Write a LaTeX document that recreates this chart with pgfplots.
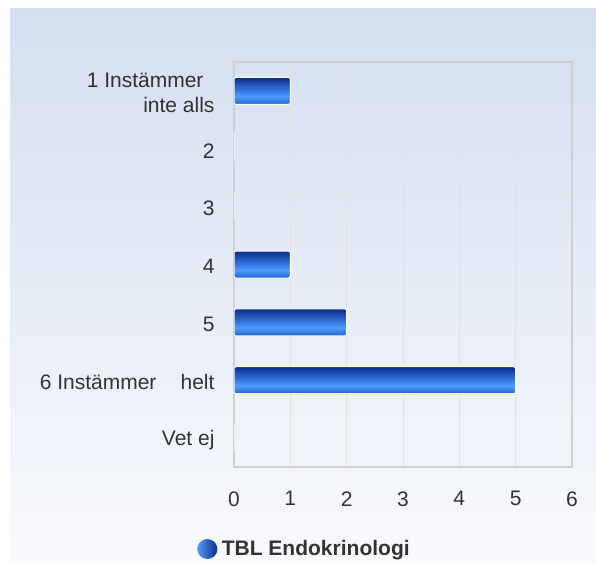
\documentclass[border=0pt]{standalone}
\usepackage{fontspec}
\setmainfont{Liberation Sans}
\usepackage{pgfplots}
\pgfplotsset{compat=1.18}
\definecolor{bgtop}{RGB}{211,223,240}
\definecolor{bgbot}{RGB}{249,250,253}
\definecolor{btop}{RGB}{12,42,135}
\definecolor{blight}{RGB}{80,157,250}
\definecolor{bmid}{RGB}{55,120,230}
\definecolor{bbot}{RGB}{32,98,210}
\definecolor{txt}{RGB}{51,51,51}
\definecolor{gridc}{RGB}{226,226,226}
\definecolor{axc}{RGB}{208,208,208}
\pgfdeclareverticalshading{barshade}{100bp}{color(0bp)=(bbot); color(25bp)=(bbot); color(40bp)=(blight); color(50bp)=(bmid); color(75bp)=(btop); color(100bp)=(btop)}
\pgfplotsset{barsty/.style={xbar, bar shift=0pt, shading=barshade, draw=white, line width=1bp, rounded corners=2bp}}
\begin{document}
\begin{tikzpicture}
\fill[white] (0,0) rectangle (596bp,563bp);
\shade[top color=bgtop, bottom color=bgbot] (10bp,0bp) rectangle (596bp,554bp);
\begin{axis}[
  at={(234bp,96bp)}, anchor=south west,
  scale only axis, width=338bp, height=405bp,
  xbar, bar width=27bp, bar shift=0pt,
  xmin=0, xmax=6, ymin=-0.5, ymax=6.5,
  y dir=reverse,
  xtick={0,1,...,6}, ytick={0,...,6},
  yticklabels={{1 Instämmer\hspace*{11bp}\\inte alls},2,3,4,5,{6 Instämmer\hspace{1.15em}helt},Vet ej},
  major tick length=0pt,
  xmajorgrids, grid style={gridc, line width=1bp},
  axis line style={axc, line width=1.3bp},
  tick label style={font=\fontsize{21bp}{25bp}\selectfont, text=txt},
  yticklabel style={align=right, xshift=-16bp, yshift=-2bp},
  xticklabel style={yshift=-21bp},
  /pgf/number format/assume math mode=true,
  legend style={at={(rel axis cs:0.2086,-0.2025)}, anchor=center, draw=none, fill=none,
    font=\fontsize{21bp}{23bp}\selectfont\bfseries, text=txt},
  legend image code/.code={\shade[left color=blight, right color=btop, draw=none] (0bp,0bp) circle (10bp); \path (12bp,0bp);},
]
\addplot[barsty] coordinates {(1,0)};
\addlegendentry{TBL Endokrinologi}
\addplot[barsty, forget plot] coordinates {(0,1)};
\addplot[barsty, forget plot] coordinates {(0,2)};
\addplot[barsty, forget plot] coordinates {(1,3)};
\addplot[barsty, forget plot] coordinates {(2,4)};
\addplot[barsty, forget plot] coordinates {(5,5)};
\addplot[barsty, forget plot] coordinates {(0,6)};
\end{axis}
\end{tikzpicture}
\end{document}
